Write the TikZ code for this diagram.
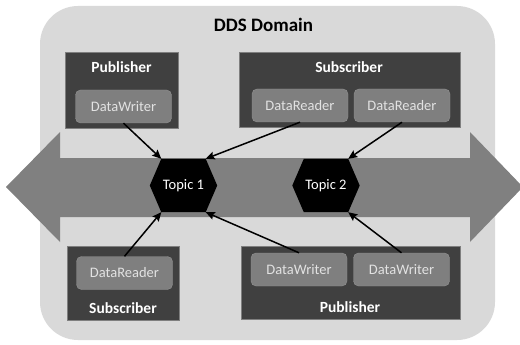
\documentclass[tikz,border=0pt]{standalone}
\usepackage{fontspec}
\setmainfont{Carlito}
\usetikzlibrary{arrows.meta}
\pgfdeclarelayer{back}
\pgfdeclarelayer{hex}
\pgfsetlayers{back,hex,main}
\definecolor{domaingray}{HTML}{D9D9D9}
\definecolor{bandgray}{HTML}{808080}
\definecolor{boxdark}{HTML}{404040}
\definecolor{innergray}{HTML}{7F7F7F}
\definecolor{innertext}{HTML}{E2E2E2}
\tikzset{
  entity/.style={fill=boxdark, draw=innergray, line width=0.4pt, inner sep=0pt},
  entitytitle/.style={text=white, font=\fontsize{15.5}{18}\selectfont\bfseries, inner sep=0pt},
  endpoint/.style={fill=innergray, draw=innergray!85!white, line width=0.4pt, rounded corners=5pt,
    minimum width=96pt, minimum height=33pt, inner sep=0pt, text=innertext,
    font=\fontsize{14.5}{17}\selectfont},
  topic/.style={minimum width=44pt, minimum height=53pt, inner sep=0pt, text=white,
    font=\fontsize{14.5}{17}\selectfont},
  flow/.style={line width=1.5pt, -{Stealth[length=9pt, width=8pt, inset=1.5pt]}},
}
\begin{document}
\begin{tikzpicture}[x=1pt, y=-1pt]
\useasboundingbox (0,0) rectangle (520,345);

% domain background and data bus
\begin{pgfonlayer}{back}
  \fill[domaingray, rounded corners=38pt] (40,6) rectangle (495,340);
  \fill[bandgray] (6,187) -- (60,132) -- (60,158) -- (470,158) -- (470,132)
    -- (523,187) -- (470,242) -- (470,217) -- (60,217) -- (60,242) -- cycle;
\end{pgfonlayer}

\node[font=\fontsize{19}{22}\selectfont\bfseries, inner sep=0pt] (domtitle) at (263.5,24.5) {DDS Domain};

% upper entities
\node[entity, minimum width=113pt, minimum height=76pt] (pubA) at (121.5,90) {};
\node[entitytitle] (pubAt) at (121.5,67.5) {Publisher};
\node[endpoint] (dwA) at (123.5,106.5) {DataWriter};

\node[entity, minimum width=221pt, minimum height=75pt] (subA) at (349.5,89.5) {};
\node[entitytitle] (subAt) at (349,67.5) {Subscriber};
\node[endpoint] (drA) at (300,105.5) {DataReader};
\node[endpoint] (drB) at (402,105.5) {DataReader};

% lower entities
\node[entity, minimum width=112pt, minimum height=74pt] (subB) at (123.5,283) {};
\node[endpoint] (drC) at (124.5,273) {DataReader};
\node[entitytitle] (subBt) at (123,308) {Subscriber};

\node[entity, minimum width=219pt, minimum height=73pt] (pubB) at (350.5,282.5) {};
\node[endpoint] (dwB) at (299,269.5) {DataWriter};
\node[endpoint] (dwC) at (401.5,269.5) {DataWriter};
\node[entitytitle] (pubBt) at (350,307.5) {Publisher};

% topics
\node[topic] (t1) at (183.5,185.5) {Topic 1};
\node[topic] (t2) at (326,185.5) {Topic 2};
\begin{pgfonlayer}{hex}
  \foreach \t in {t1,t2}{
    \fill[black] (\t.north west) -- (\t.north east) -- ([xshift=11.5pt]\t.east)
      -- (\t.south east) -- (\t.south west) -- ([xshift=-11.5pt]\t.west) -- cycle;
  }
\end{pgfonlayer}

% connectors
\draw[flow] (dwA.south) -- (t1.north west);
\draw[flow] (drA.south) -- (t1.north east);
\draw[flow] (drB.south) -- (t2.north east);
\draw[flow] (drC.north) -- (t1.south west);
\draw[flow] (dwB.north) -- (t1.south east);
\draw[flow] (dwC.north) -- (t2.south east);
\end{tikzpicture}
\end{document}
